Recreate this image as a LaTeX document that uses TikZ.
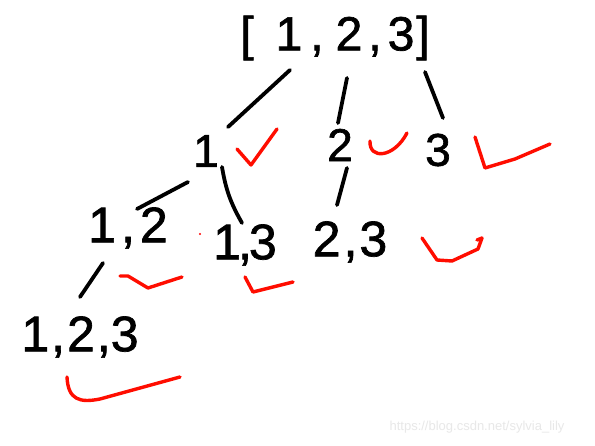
\documentclass[tikz,border=0pt]{standalone}
\usepackage{fontspec}
\setmainfont[FakeBold=1.4]{Liberation Sans}
\begin{document}
\begin{tikzpicture}[x=1pt,y=-1pt,
  lbl/.style={inner sep=0pt,font=\fontsize{46}{50}\selectfont},
  big/.style={lbl,font=\fontsize{50}{54}\selectfont},
  edge/.style={line width=3.8pt,line cap=round,line join=round},
  redmark/.style={draw=red!90!orange,line width=3.4pt,line cap=round,line join=round}]
\useasboundingbox[fill=white] (0,0) rectangle (595,446);
% nodes
\node[lbl,font=\fontsize{48}{52}\selectfont] (root) at (335,38) {[\hspace{22pt}1\hspace{8pt},\hspace{12pt}2\hspace{6pt},\hspace{6pt}3\hspace{2pt}]};
\node[lbl] (n1) at (206,151) {1};
\node[lbl] (n2) at (340,145) {2};
\node[lbl] (n3) at (438,150) {3};
\node[big] (n12) at (128,228) {1\hspace{5pt},\hspace{5pt}2};
\node[big] (n13) at (245,245) {1\hspace{-3pt},\hspace{-3pt}3};
\node[big] (n23) at (350,242) {2\hspace{3pt},\hspace{2pt}3};
\node[big] (n123) at (80,337) {1\hspace{2pt},\hspace{2pt}2\hspace{2pt},\hspace{0pt}3};
% connectors
\draw[edge] ([shift={(-45,32)}]root.center) -- ([shift={(22,-24)}]n1.center);
\draw[edge] ([shift={(12,40)}]root.center) -- ([shift={(-2,-22)}]n2.center);
\draw[edge] ([shift={(90,34)}]root.center) -- ([shift={(5,-32)}]n3.center);
\draw[edge] ([shift={(-18,31)}]n1.center) -- ([shift={(9,-19)}]n12.center);
\draw[edge] ([shift={(16,16)}]n1.center) to[bend right=10] ([shift={(-3,-22)}]n13.center);
\draw[edge] ([shift={(7,23)}]n2.center) -- ([shift={(-13,-37)}]n23.center);
\draw[edge] ([shift={(-25,35)}]n12.center) -- ([shift={(0,-40)}]n123.center);
% red marks
\draw[redmark] (237,149) -- (251,165) -- (277,129);
\draw[redmark] (370,141) .. controls (369,160) and (394,158) .. (407,133);
\draw[redmark] (475,137) -- (485,168) -- (515,159) -- (550,144);
\draw[redmark] (120,276) -- (128,276) -- (148,288) -- (182,277);
\draw[redmark] (245,277) -- (253,292) -- (293,282);
\draw[redmark] (422,238) -- (437,260) -- (452,261) -- (478,249) -- (482,238) -- (477,240);
\draw[redmark] (67,377) .. controls (68,400) and (80,403) .. (100,399) -- (180,377);
\fill[red] (200,234) circle (1.2pt);
% watermark
\node[text=black!9,inner sep=0pt,font=\addfontfeatures{FakeBold=0}\fontsize{13}{15}\selectfont] (wm) at (477,427) {https://blog.csdn.net/sylvia\_lily};
\end{tikzpicture}
\end{document}
